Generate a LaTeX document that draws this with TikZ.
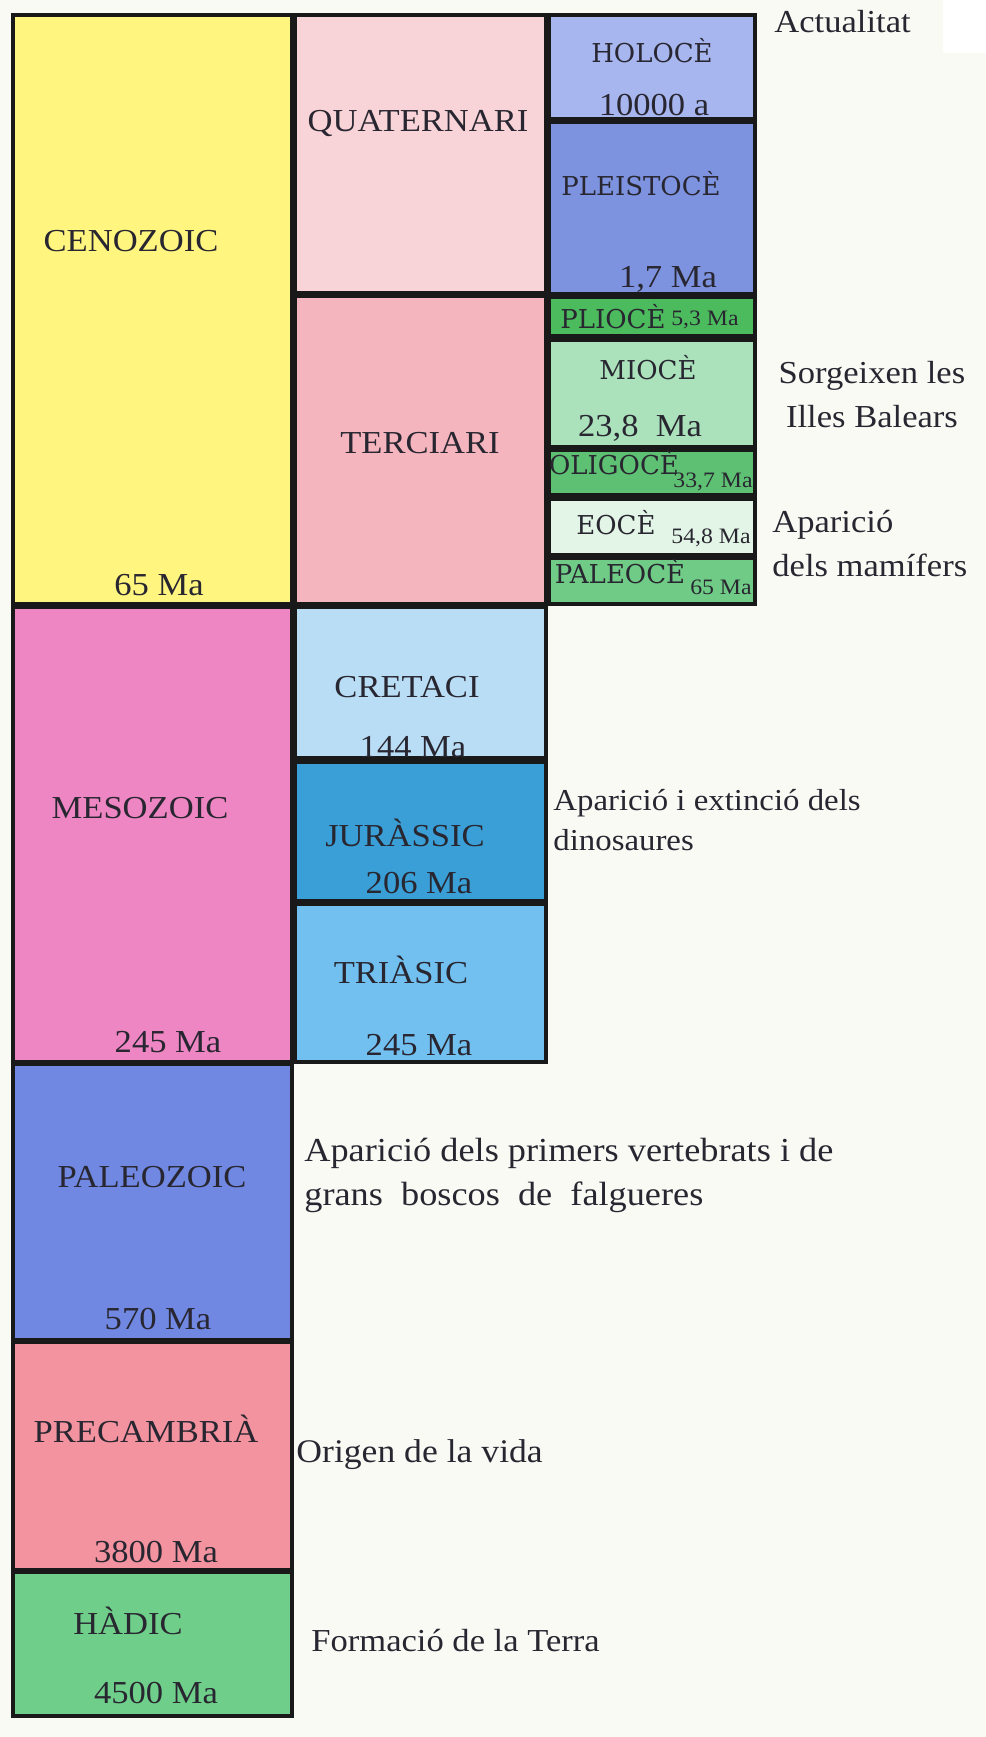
\documentclass[tikz,border=0pt]{standalone}
\usepackage{fontspec}
\setmainfont{Liberation Serif}[FakeStretch=1.08]
\newfontfamily\EpochFont{DejaVu Serif}
\usepackage{tikz}
\usepackage{xcolor}
\definecolor{ColPaper}{RGB}{250,250,245}
\definecolor{ColText}{RGB}{40,38,48}
\definecolor{ColCeno}{RGB}{255,245,127}
\definecolor{ColQuat}{RGB}{248,211,216}
\definecolor{ColTerc}{RGB}{244,181,190}
\definecolor{ColHolo}{RGB}{168,182,240}
\definecolor{ColPleis}{RGB}{126,147,224}
\definecolor{ColPlio}{RGB}{76,187,94}
\definecolor{ColMio}{RGB}{171,226,188}
\definecolor{ColOligo}{RGB}{94,192,115}
\definecolor{ColEo}{RGB}{227,245,230}
\definecolor{ColPaleo}{RGB}{111,203,134}
\definecolor{ColMeso}{RGB}{238,134,195}
\definecolor{ColCret}{RGB}{185,221,245}
\definecolor{ColJur}{RGB}{58,159,214}
\definecolor{ColTrias}{RGB}{114,192,239}
\definecolor{ColPaleoz}{RGB}{112,136,226}
\definecolor{ColPrec}{RGB}{242,147,159}
\definecolor{ColHad}{RGB}{111,207,138}
\tikzstyle{Box}=[draw=black!90,line width=1.8pt]
\tikzstyle{TextMain}=[inner sep=0pt,text=ColText,font=\fontsize{16}{19}\selectfont]
\tikzstyle{TextEpoch}=[inner sep=0pt,text=ColText,font=\EpochFont\fontsize{13}{15}\selectfont]
\tikzstyle{TextSmall}=[inner sep=0pt,text=ColText,font=\fontsize{11}{13}\selectfont]
\tikzstyle{TextNote}=[inner sep=0pt,anchor=west,align=left,text=ColText,
font=\fontsize{16}{22}\selectfont]

\begin{document}
\begin{tikzpicture}[x=0.5pt,y=-0.5pt]
        \useasboundingbox(0,0)rectangle(986,1737);
        \fill[ColPaper](0,0)rectangle(986,1737);
        \fill[white](943,0)rectangle(986,53);
        % eres
        \filldraw[Box,fill=ColCeno](13,15)rectangle(292,604);
        \filldraw[Box,fill=ColMeso](13,607)rectangle(292,1062);
        \filldraw[Box,fill=ColPaleoz](13,1064)rectangle(292,1340);
        \filldraw[Box,fill=ColPrec](13,1342)rectangle(292,1570);
        \filldraw[Box,fill=ColHad](13,1572)rectangle(292,1716);
        % periodes
        \filldraw[Box,fill=ColQuat](295,15)rectangle(546,293);
        \filldraw[Box,fill=ColTerc](295,296)rectangle(546,604);
        \filldraw[Box,fill=ColCret](295,607)rectangle(546,758);
        \filldraw[Box,fill=ColJur](295,762)rectangle(546,901);
        \filldraw[Box,fill=ColTrias](295,904)rectangle(546,1062);
        % epoques
        \filldraw[Box,fill=ColHolo](549,15)rectangle(755,119);
        \filldraw[Box,fill=ColPleis](549,122)rectangle(755,294);
        \filldraw[Box,fill=ColPlio](549,297)rectangle(755,336);
        \filldraw[Box,fill=ColMio](549,340)rectangle(755,447);
        \filldraw[Box,fill=ColOligo](549,450)rectangle(755,495);
        \filldraw[Box,fill=ColEo](549,499)rectangle(755,555);
        \filldraw[Box,fill=ColPaleo](549,558)rectangle(755,604);
        % textos de les eres
        \node[TextMain](ceno)at(131,241){CENOZOIC};
        \node[TextMain](cenoma)at(159,585){65 Ma};
        \node[TextMain](meso)at(140,808){MESOZOIC};
        \node[TextMain](mesoma)at(168,1042){245 Ma};
        \node[TextMain](paleoz)at(152,1177){PALEOZOIC};
        \node[TextMain](paleozma)at(158,1319){570 Ma};
        \node[TextMain](prec)at(146,1429){PRECAMBRIÀ};
        \node[TextMain](precma)at(156,1552){3800 Ma};
        \node[TextMain](had)at(128,1621){HÀDIC};
        \node[TextMain](hadma)at(156,1693){4500 Ma};
        % textos dels periodes
        \node[TextMain](quat)at(418,123){QUATERNARI};
        \node[TextMain](terc)at(420,443){TERCIARI};
        \node[TextMain](cret)at(407,687){CRETACI};
        \node[TextMain](cretma)at(413,747){144 Ma};
        \node[TextMain](jur)at(405,833){JURÀSSIC};
        \node[TextMain](jurma)at(419,883){206 Ma};
        \node[TextMain](trias)at(401,970){TRIÀSIC};
        \node[TextMain](triasma)at(419,1045){245 Ma};
        % textos de les epoques
        \node[TextEpoch](holo)at(652,51){HOLOCÈ};
        \node[TextMain](holoa)at(654,105){10000 a};
        \node[TextEpoch](pleis)at(641,184){PLEISTOCÈ};
        \node[TextMain](pleisma)at(668,279){1,7 Ma};
        \node[TextEpoch](plio)at(613,317){PLIOCÈ};
        \node[TextSmall](plioma)at(705,320){5,3 Ma};
        \node[TextEpoch](mio)at(648,368){MIOCÈ};
        \node[TextMain](mioma)at(640,428){23,8\ \ Ma};
        \node[TextEpoch](oligo)at(614,463){OLIGOCÈ};
        \node[TextSmall](oligoma)at(713,482){33,7 Ma};
        \node[TextEpoch](eo)at(616,523){EOCÈ};
        \node[TextSmall](eoma)at(711,538){54,8 Ma};
        \node[TextEpoch](paleo)at(620,572){PALEOCÈ};
        \node[TextSmall](paleoma)at(721,587){65 Ma};
        % esdeveniments
        \node[TextNote](actual)at(774,22){Actualitat};
        \node[TextNote,align=center,anchor=center](balears)at(872,395){Sorgeixen les\\Illes Balears};
        \node[TextNote](mamifers)at(772,544){Aparició\\dels mamífers};
        \node[TextNote,font=\fontsize{15.2}{20}\selectfont](dino)at(553,820){Aparició i extinció dels\\dinosaures};
        \node[TextNote,font=\fontsize{16.8}{22}\selectfont](vertebrats)at(304,1175){Aparició dels primers vertebrats i de\\grans\ \ boscos\ \ de\ \ falgueres};
        \node[TextNote,font=\fontsize{16.5}{20}\selectfont](vida)at(296,1455){Origen de la vida};
        \node[TextNote](terra)at(311,1641){Formació de la Terra};
    \end{tikzpicture}
\end{document}
